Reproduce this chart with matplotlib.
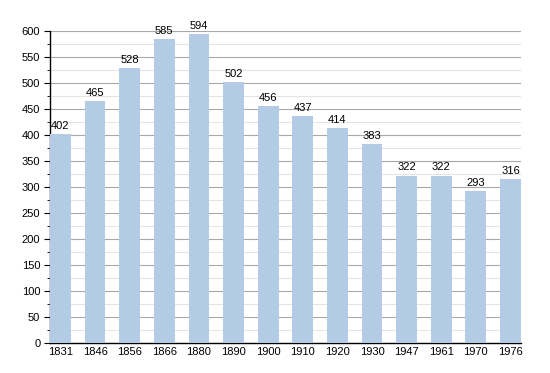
import matplotlib.pyplot as plt
from matplotlib.ticker import MultipleLocator

years = ['1831', '1846', '1856', '1866', '1880', '1890', '1900',
         '1910', '1920', '1930', '1947', '1961', '1970', '1976']
population = [402, 465, 528, 585, 594, 502, 456, 437, 414, 383, 322, 322, 293, 316]

plt.rcParams['font.family'] = ['Liberation Sans', 'DejaVu Sans']

fig = plt.figure(figsize=(5.5, 3.73), dpi=100)
ax = fig.add_axes([0.091, 0.080, 0.856, 0.837])

x = range(len(years))
ax.bar(x, population, width=0.6, color='#b3cbe4', zorder=3)
for i, v in zip(x, population):
    ax.text(i, v + 6, str(v), ha='center', va='bottom', fontsize=8, zorder=4)

ax.set_xlim(-0.3, len(years) - 0.7)
ax.set_ylim(0, 600)
ax.set_xticks(list(x))
ax.set_xticklabels(years)
ax.yaxis.set_major_locator(MultipleLocator(50))
ax.yaxis.set_minor_locator(MultipleLocator(25))
ax.grid(axis='y', which='major', color='#a8a8a8', linewidth=0.8, zorder=0)
ax.grid(axis='y', which='minor', color='#e4e4e4', linewidth=0.8, zorder=0)
ax.tick_params(axis='x', length=0, labelsize=8, pad=3)
ax.tick_params(axis='y', which='major', length=4, labelsize=8, pad=3)
ax.tick_params(axis='y', which='minor', length=2)
for s in ['top', 'right']:
    ax.spines[s].set_visible(False)
ax.spines['left'].set_linewidth(1)
ax.spines['bottom'].set_linewidth(1)

fig.savefig('out.png', dpi=100)
